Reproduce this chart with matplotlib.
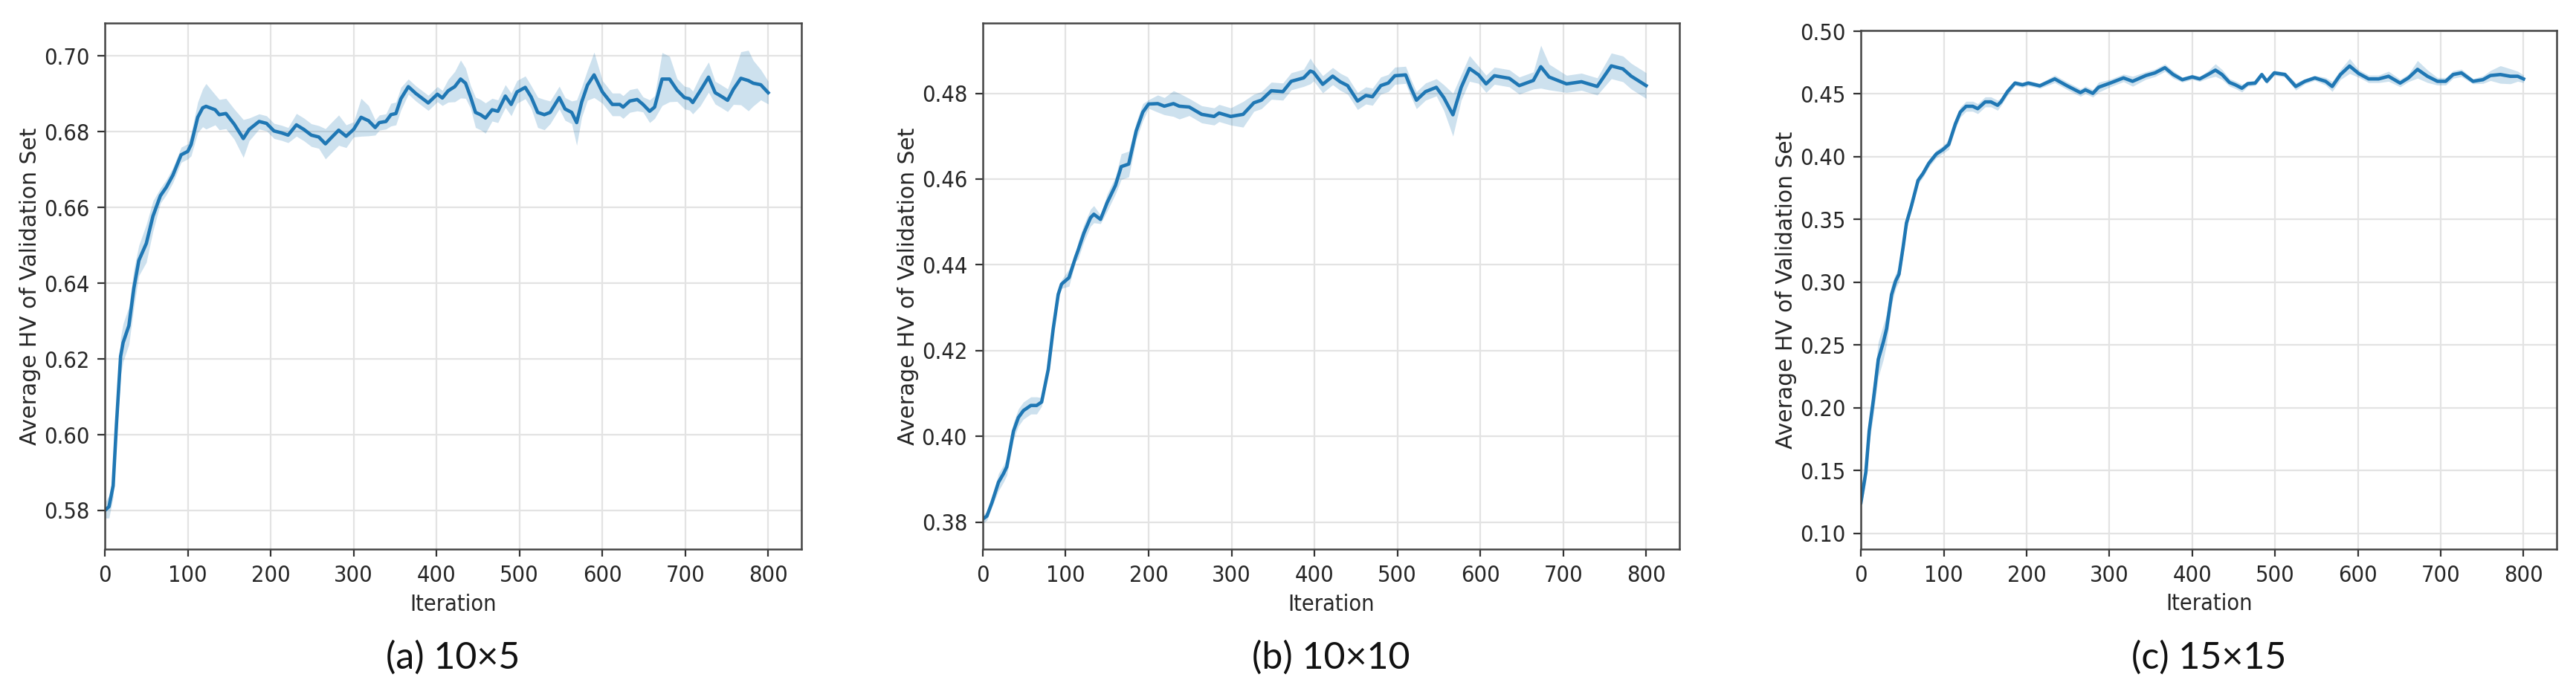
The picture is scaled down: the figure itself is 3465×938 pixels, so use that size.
import numpy as np
import matplotlib
matplotlib.use('Agg')
from matplotlib import pyplot as plt
from matplotlib import font_manager as fm

# ---------------- data ----------------
# (a) 10x5
x_a = [0, 5, 10, 14, 19, 22, 29, 35, 41, 50,
       58, 67, 74, 82, 92, 100, 104, 112, 118, 122,
       133, 138, 146, 156, 167, 174, 186, 195, 204, 213,
       221, 231, 240, 249, 258, 266, 273, 282, 291, 300,
       309, 318, 326, 331, 339, 345, 351, 357, 366, 375,
       390, 401, 407, 414, 422, 429, 435, 441, 447, 453,
       459, 467, 474, 483, 490, 497, 507, 514, 522, 530,
       537, 548, 555, 563, 569, 575, 582, 590, 600, 612,
       621, 625, 633, 642, 649, 657, 663, 672, 681, 690,
       699, 705, 709, 718, 728, 736, 743, 751, 758, 767,
       776, 782, 791, 800]
hv_a = [0.5800, 0.5810, 0.5865, 0.6027, 0.6207, 0.6243, 0.6288, 0.6387, 0.6460, 0.6505,
        0.6577, 0.6631, 0.6653, 0.6685, 0.6739, 0.6748, 0.6766, 0.6838, 0.6863, 0.6867,
        0.6858, 0.6845, 0.6848, 0.6820, 0.6782, 0.6806, 0.6827, 0.6822, 0.6802, 0.6797,
        0.6791, 0.6818, 0.6806, 0.6791, 0.6786, 0.6768, 0.6784, 0.6804, 0.6788, 0.6806,
        0.6838, 0.6829, 0.6811, 0.6824, 0.6827, 0.6845, 0.6848, 0.6887, 0.6919, 0.6901,
        0.6876, 0.6899, 0.6889, 0.6908, 0.6919, 0.6939, 0.6928, 0.6892, 0.6851, 0.6845,
        0.6836, 0.6858, 0.6854, 0.6894, 0.6872, 0.6905, 0.6917, 0.6892, 0.6851, 0.6845,
        0.6851, 0.6890, 0.6860, 0.6851, 0.6824, 0.6878, 0.6923, 0.6950, 0.6905, 0.6872,
        0.6872, 0.6865, 0.6881, 0.6885, 0.6872, 0.6854, 0.6865, 0.6939, 0.6939, 0.6910,
        0.6890, 0.6887, 0.6877, 0.6908, 0.6944, 0.6903, 0.6894, 0.6883, 0.6912, 0.6941,
        0.6935, 0.6928, 0.6924, 0.6903]
sd_a = [0.002, 0.003, 0.003, 0.004, 0.005, 0.005, 0.005, 0.005, 0.004, 0.005,
        0.004, 0.002, 0.002, 0.002, 0.002, 0.002, 0.003, 0.004, 0.005, 0.006,
        0.004, 0.004, 0.004, 0.004, 0.005, 0.003, 0.002, 0.002, 0.002, 0.002,
        0.002, 0.003, 0.003, 0.003, 0.003, 0.004, 0.004, 0.004, 0.003, 0.002,
        0.005, 0.004, 0.002, 0.002, 0.002, 0.003, 0.003, 0.003, 0.002, 0.002,
        0.002, 0.002, 0.002, 0.003, 0.004, 0.005, 0.004, 0.003, 0.004, 0.004,
        0.004, 0.003, 0.003, 0.003, 0.003, 0.003, 0.003, 0.003, 0.004, 0.004,
        0.003, 0.003, 0.003, 0.003, 0.006, 0.004, 0.004, 0.006, 0.003, 0.003,
        0.003, 0.003, 0.003, 0.003, 0.002, 0.003, 0.003, 0.007, 0.006, 0.003,
        0.003, 0.003, 0.003, 0.004, 0.004, 0.003, 0.003, 0.003, 0.004, 0.007,
        0.008, 0.006, 0.004, 0.003]

# (b) 10x10
x_b = [0, 5, 11, 19, 25, 29, 37, 43, 49, 58,
       65, 71, 79, 85, 91, 95, 104, 112, 115, 122,
       130, 134, 142, 150, 160, 167, 176, 185, 193, 200,
       211, 219, 230, 237, 249, 264, 279, 285, 299, 314,
       327, 336, 348, 362, 372, 387, 395, 399, 410, 422,
       431, 440, 452, 462, 470, 480, 489, 497, 510, 516,
       523, 534, 547, 556, 567, 577, 587, 598, 607, 617,
       635, 647, 664, 673, 683, 704, 722, 741, 758, 772,
       782, 800]
hv_b = [0.3807, 0.3814, 0.3845, 0.3893, 0.3913, 0.3929, 0.4012, 0.4044, 0.4060, 0.4072,
        0.4072, 0.4080, 0.4156, 0.4251, 0.4331, 0.4355, 0.4370, 0.4418, 0.4434, 0.4474,
        0.4510, 0.4518, 0.4506, 0.4545, 0.4585, 0.4629, 0.4635, 0.4712, 0.4756, 0.4775,
        0.4776, 0.4770, 0.4776, 0.4770, 0.4768, 0.4751, 0.4746, 0.4754, 0.4746, 0.4751,
        0.4778, 0.4784, 0.4806, 0.4804, 0.4828, 0.4836, 0.4852, 0.4849, 0.4821, 0.4840,
        0.4827, 0.4818, 0.4782, 0.4795, 0.4792, 0.4818, 0.4824, 0.4841, 0.4843, 0.4814,
        0.4784, 0.4804, 0.4814, 0.4790, 0.4750, 0.4814, 0.4858, 0.4843, 0.4822, 0.4841,
        0.4835, 0.4818, 0.4830, 0.4862, 0.4838, 0.4822, 0.4827, 0.4816, 0.4864, 0.4857,
        0.4840, 0.4818]
sd_b = [0.001, 0.001, 0.001, 0.002, 0.002, 0.002, 0.002, 0.002, 0.002, 0.002,
        0.002, 0.001, 0.001, 0.001, 0.001, 0.001, 0.002, 0.001, 0.002, 0.002,
        0.002, 0.002, 0.001, 0.002, 0.002, 0.003, 0.003, 0.002, 0.002, 0.001,
        0.002, 0.002, 0.003, 0.003, 0.002, 0.002, 0.002, 0.002, 0.002, 0.003,
        0.002, 0.002, 0.002, 0.002, 0.002, 0.002, 0.003, 0.002, 0.002, 0.002,
        0.002, 0.002, 0.002, 0.002, 0.002, 0.002, 0.002, 0.002, 0.002, 0.002,
        0.002, 0.002, 0.002, 0.003, 0.005, 0.003, 0.003, 0.002, 0.002, 0.002,
        0.002, 0.002, 0.002, 0.005, 0.003, 0.002, 0.002, 0.002, 0.003, 0.003,
        0.003, 0.003]

# (c) 15x15
x_c = [0, 6, 10, 15, 21, 27, 31, 37, 42, 46,
       51, 55, 61, 69, 75, 82, 91, 99, 106, 114,
       120, 127, 135, 141, 150, 157, 165, 169, 177, 186,
       195, 202, 216, 234, 249, 265, 271, 280, 287, 301,
       317, 328, 344, 355, 367, 377, 388, 400, 409, 419,
       428, 436, 445, 452, 460, 467, 476, 484, 490, 499,
       512, 525, 536, 548, 561, 569, 579, 590, 601, 613,
       625, 637, 651, 661, 672, 684, 696, 706, 715, 725,
       739, 751, 760, 772, 784, 793, 800]
hv_c = [0.1245, 0.1490, 0.1815, 0.2060, 0.2386, 0.2522, 0.2630, 0.2902, 0.3011, 0.3065,
        0.3283, 0.3473, 0.3609, 0.3812, 0.3867, 0.3948, 0.4022, 0.4057, 0.4098, 0.4261,
        0.4356, 0.4402, 0.4402, 0.4383, 0.4437, 0.4437, 0.4410, 0.4437, 0.4519, 0.4587,
        0.4573, 0.4587, 0.4565, 0.4620, 0.4565, 0.4511, 0.4533, 0.4505, 0.4554, 0.4587,
        0.4628, 0.4601, 0.4647, 0.4668, 0.4709, 0.4655, 0.4614, 0.4636, 0.4620, 0.4655,
        0.4690, 0.4655, 0.4592, 0.4573, 0.4546, 0.4582, 0.4587, 0.4655, 0.4601, 0.4668,
        0.4655, 0.4560, 0.4601, 0.4628, 0.4601, 0.4560, 0.4655, 0.4723, 0.4663, 0.4620,
        0.4620, 0.4641, 0.4587, 0.4628, 0.4696, 0.4641, 0.4601, 0.4601, 0.4655, 0.4668,
        0.4601, 0.4614, 0.4647, 0.4655, 0.4641, 0.4641, 0.4620]
sd_c = [0.004, 0.008, 0.010, 0.012, 0.014, 0.014, 0.012, 0.008, 0.006, 0.006,
        0.006, 0.005, 0.004, 0.003, 0.003, 0.003, 0.003, 0.003, 0.004, 0.004,
        0.004, 0.004, 0.004, 0.004, 0.004, 0.004, 0.004, 0.003, 0.003, 0.002,
        0.002, 0.002, 0.002, 0.003, 0.003, 0.003, 0.003, 0.003, 0.004, 0.003,
        0.003, 0.004, 0.003, 0.003, 0.003, 0.003, 0.002, 0.002, 0.002, 0.003,
        0.005, 0.004, 0.003, 0.003, 0.003, 0.002, 0.002, 0.002, 0.002, 0.002,
        0.002, 0.003, 0.002, 0.002, 0.003, 0.004, 0.004, 0.006, 0.003, 0.003,
        0.003, 0.004, 0.003, 0.003, 0.007, 0.005, 0.003, 0.003, 0.003, 0.003,
        0.002, 0.003, 0.004, 0.007, 0.006, 0.004, 0.003]

captions = ['(a) 10×5', '(b) 10×10', '(c) 15×15']
yticks_a = [0.58, 0.60, 0.62, 0.64, 0.66, 0.68, 0.70]
yticks_b = [0.38, 0.40, 0.42, 0.44, 0.46, 0.48]
yticks_c = [0.10, 0.15, 0.20, 0.25, 0.30, 0.35, 0.40, 0.45, 0.50]
xticks = [0, 100, 200, 300, 400, 500, 600, 700, 800]


def narrow_font(size):
    # condensed look of the tick labels in the original
    for f in fm.fontManager.ttflist:
        if f.name == 'DejaVu Sans' and 'Condensed' in f.fname \
                and 'Bold' not in f.fname and 'Oblique' not in f.fname:
            return fm.FontProperties(fname=f.fname, size=size)
    names = set(f.name for f in fm.fontManager.ttflist)
    if 'Liberation Sans Narrow' in names:
        return fm.FontProperties(family='Liberation Sans Narrow', size=size)
    return fm.FontProperties(family='DejaVu Sans', size=size)


tick_fp = narrow_font(22)
blue = '#1f77b4'
txt = '#262626'

fig = plt.figure(figsize=(34.65, 9.38), dpi=100)
boxes = [[0.0407, 0.2122, 0.2704, 0.7548],
         [0.3815, 0.2122, 0.2704, 0.7548],
         [0.7224, 0.2122, 0.2701, 0.7441]]
series = [(x_a, hv_a, sd_a, yticks_a, (0.5698, 0.7087)),
          (x_b, hv_b, sd_b, yticks_b, (0.3737, 0.4964)),
          (x_c, hv_c, sd_c, yticks_c, (0.0875, 0.5006))]

for i in range(3):
    xs, ys, sd, yt, ylim = series[i]
    xs = np.array(xs)
    ys = np.array(ys)
    sd = np.array(sd)
    ax = fig.add_axes(boxes[i])
    ax.fill_between(xs, ys - sd, ys + sd, color=blue, alpha=0.22, linewidth=0)
    ax.plot(xs, ys, color=blue, linewidth=3.3)
    ax.set_xlim(0, 840)
    ax.set_ylim(*ylim)
    ax.set_xticks(xticks)
    ax.set_yticks(yt)
    ax.set_xticklabels([str(t) for t in xticks], fontproperties=tick_fp, color=txt)
    ax.set_yticklabels(['%.2f' % t for t in yt], fontproperties=tick_fp, color=txt)
    ax.tick_params(length=7, width=1.6, color='#333333', pad=8)
    ax.grid(True, color='#e3e3e3', linewidth=1.6)
    ax.set_axisbelow(True)
    for s in ax.spines.values():
        s.set_color('#444444')
        s.set_linewidth(1.8)
    ax.set_ylabel('Average HV of Validation Set', fontsize=21.4, color=txt,
                  family='DejaVu Sans')
    ax.yaxis.set_label_coords(-0.107, 0.5)
    ax.yaxis.label.set_va('center')
    ax.set_xlabel('Iteration', fontproperties=tick_fp, color=txt)
    ax.xaxis.set_label_coords(0.5, -0.105)
    ax.xaxis.label.set_va('center')
    b = boxes[i]
    fig.text(b[0] + b[2] / 2, 1 - 885 / 938.0, captions[i], ha='center', va='center',
             fontsize=36, family='Lato', color='#111111')

plt.savefig('out.png', dpi=100, facecolor='white')
